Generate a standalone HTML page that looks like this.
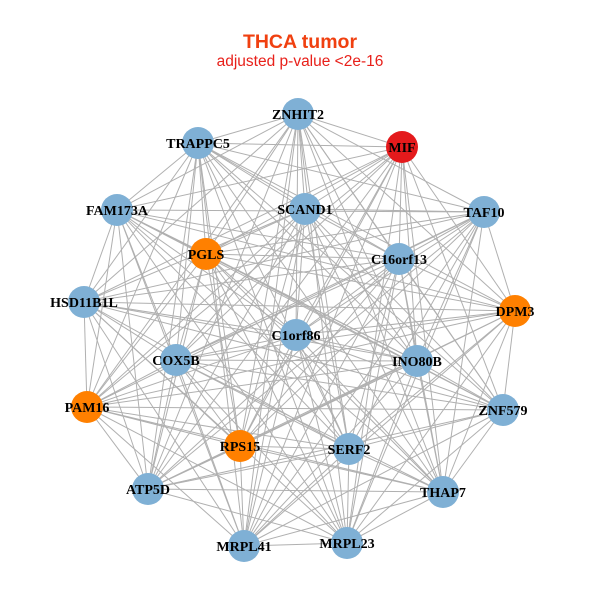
<!DOCTYPE html>
<html><head><meta charset="utf-8"><style>
html,body{margin:0;padding:0;background:#fff;}
svg{display:block;}
</style></head><body>
<svg id="s" width="600" height="600" xmlns="http://www.w3.org/2000/svg">
<rect width="600" height="600" fill="#fff"/>
<text x="300" y="48" text-anchor="middle" font-family="Liberation Sans, sans-serif" font-weight="bold" font-size="19.5" fill="#f04010">THCA tumor</text>
<text x="300" y="66" text-anchor="middle" font-family="Liberation Sans, sans-serif" font-size="15.5" fill="#e8201a">adjusted p-value &lt;2e-16</text>
<g id="edges" stroke="#b0b0b0" stroke-width="1"></g>
<g id="nodes"></g>
</svg>
<script>
var N=[["ZNHIT2",298,114,"b"],["MIF",402,147,"r"],["TRAPPC5",198,143,"b"],["FAM173A",117,210,"b"],["SCAND1",305,209,"b"],["TAF10",484,212,"b"],["PGLS",206,254,"o"],["C16orf13",399,259,"b"],["HSD11B1L",84,302,"b"],["DPM3",515,311,"o"],["C1orf86",296,335,"b"],["COX5B",176,360,"b"],["INO80B",417,361,"b"],["PAM16",87,407,"o"],["ZNF579",503,410,"b"],["RPS15",240,446,"o"],["SERF2",349,449,"b"],["ATP5D",148,489,"b"],["THAP7",443,492,"b"],["MRPL41",244,546,"b"],["MRPL23",347,543,"b"]];
var C={b:"#7fb0d5",o:"#ff8000",r:"#e41a1c"};
var ns="http://www.w3.org/2000/svg",E=document.getElementById("edges"),G=document.getElementById("nodes");
for(var i=0;i<N.length;i++)for(var j=i+1;j<N.length;j++){
 if((i*7+j*3)%11==0)continue;
 var l=document.createElementNS(ns,"line");
 l.setAttribute("x1",N[i][1]);l.setAttribute("y1",N[i][2]);l.setAttribute("x2",N[j][1]);l.setAttribute("y2",N[j][2]);E.appendChild(l);}
N.forEach(function(n){var c=document.createElementNS(ns,"circle");c.setAttribute("cx",n[1]);c.setAttribute("cy",n[2]);c.setAttribute("r",16);c.setAttribute("fill",C[n[3]]);G.appendChild(c);});
N.forEach(function(n){var t=document.createElementNS(ns,"text");t.setAttribute("x",n[1]);t.setAttribute("y",n[2]+5);t.setAttribute("text-anchor","middle");t.setAttribute("font-family","Liberation Serif, serif");t.setAttribute("font-weight","bold");t.setAttribute("font-size","14");t.textContent=n[0];G.appendChild(t);});
</script>
</body></html>
